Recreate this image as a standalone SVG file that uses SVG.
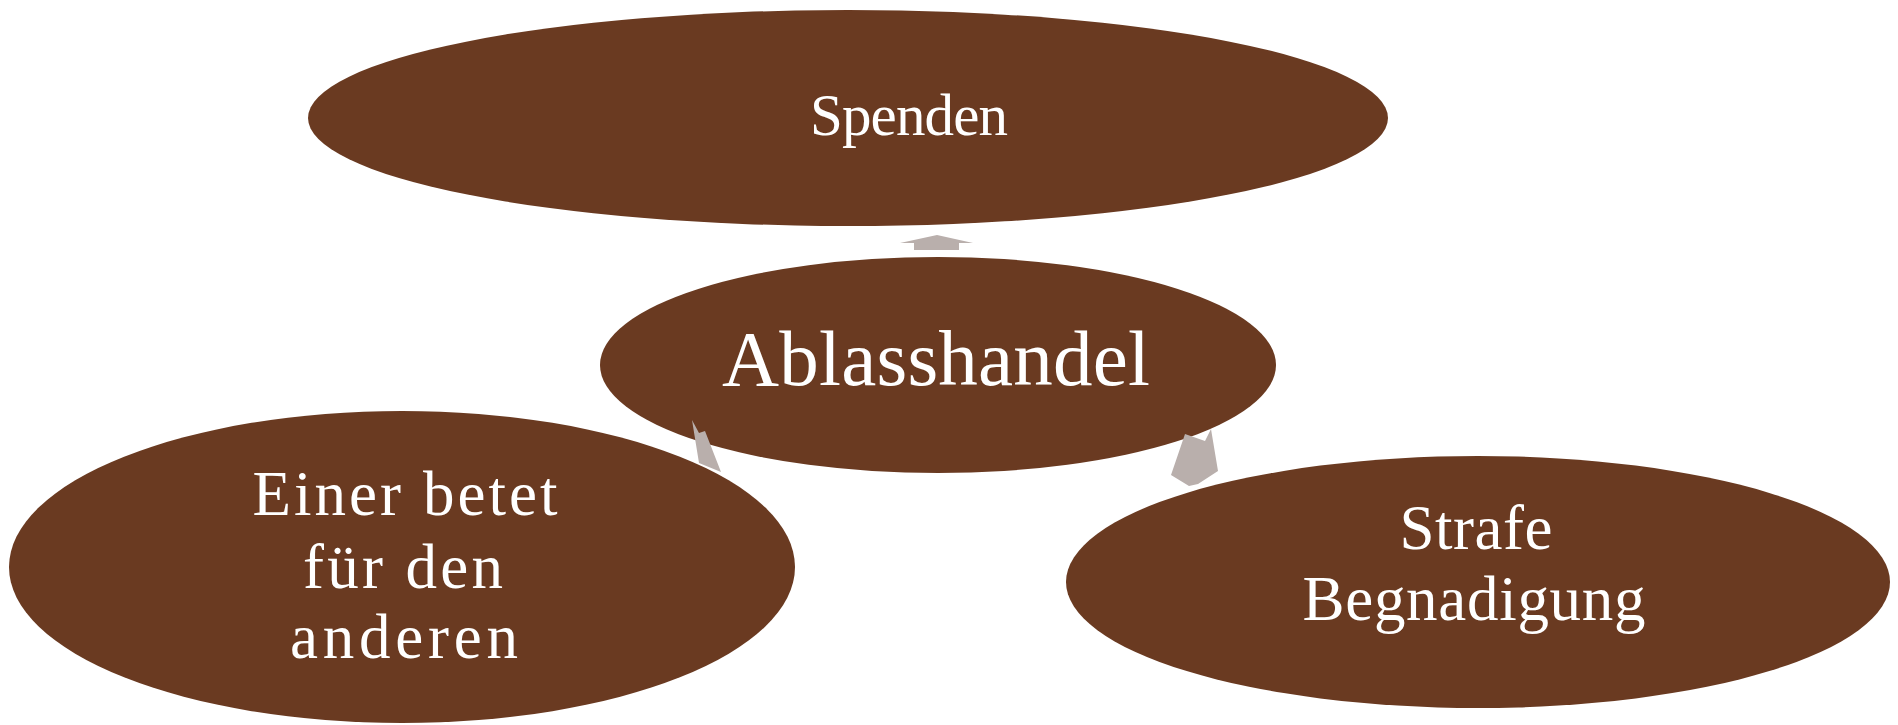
<svg xmlns="http://www.w3.org/2000/svg" width="1898" height="725" viewBox="0 0 1898 725">
<style>
.node{fill:#6A3A21}
.lbl{fill:#FFFFFF;font-family:"Liberation Serif","DejaVu Serif",serif;text-anchor:middle}
.arr{fill:#B9AFAC}
</style>
<rect width="1898" height="725" fill="#FFFFFF"/>
<g id="node-spenden">
<ellipse class="node" cx="848" cy="118" rx="540" ry="108"/>
<text class="lbl" x="909" y="135" font-size="59" textLength="198" lengthAdjust="spacing">Spenden</text>
</g>
<g id="node-ablasshandel">
<ellipse class="node" cx="938" cy="365" rx="338" ry="108"/>
<text class="lbl" x="936" y="385" font-size="79" textLength="428" lengthAdjust="spacing">Ablasshandel</text>
</g>
<g id="node-einer">
<ellipse class="node" cx="402" cy="567" rx="393" ry="156"/>
<text class="lbl" x="405" y="515" font-size="63" textLength="305" lengthAdjust="spacing">Einer betet</text>
<text class="lbl" x="403" y="588" font-size="63" textLength="200" lengthAdjust="spacing">für den</text>
<text class="lbl" x="404" y="658" font-size="63" textLength="228" lengthAdjust="spacing">anderen</text>
</g>
<g id="node-strafe">
<ellipse class="node" cx="1478" cy="582" rx="412" ry="126"/>
<text class="lbl" x="1476" y="549" font-size="63" textLength="153" lengthAdjust="spacing">Strafe</text>
<text class="lbl" x="1474" y="620" font-size="63" textLength="343" lengthAdjust="spacing">Begnadigung</text>
</g>
<g id="connectors">
<polygon class="arr" points="937,235 973,243 959,243 959,250 914,250 914,243 900,243"/>
<polygon class="arr" points="692,420 699,433 705,431 721,472 699,463"/>
<polygon class="arr" points="1185,434 1205,441 1211,429 1218,471 1198,484 1189,486 1171,475"/>
</g>
</svg>
